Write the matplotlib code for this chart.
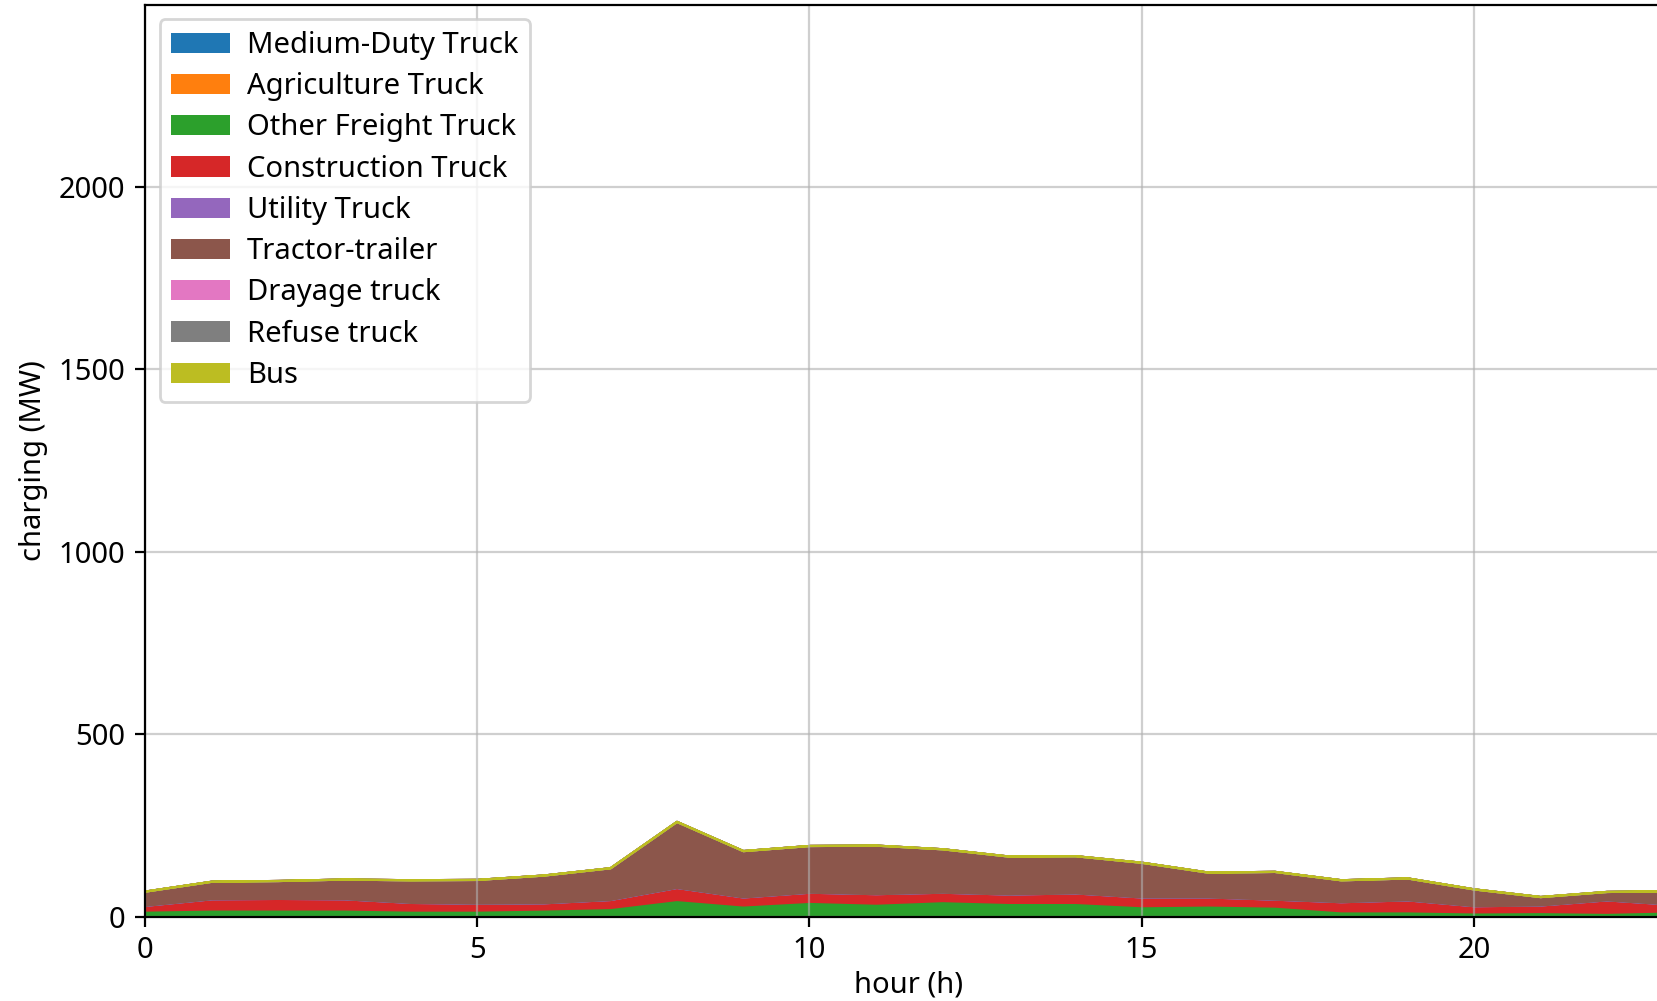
import numpy as np
import matplotlib
matplotlib.use("Agg")
import matplotlib.pyplot as plt

plt.rcParams['font.family'] = ['Noto Sans', 'DejaVu Sans']
plt.rcParams['font.size'] = 10.5

hours = list(range(24))

labels = ["Medium-Duty Truck", "Agriculture Truck", "Other Freight Truck",
          "Construction Truck", "Utility Truck", "Tractor-trailer",
          "Drayage truck", "Refuse truck", "Bus"]

# hourly charging load per vehicle class (MW)
medium_duty = [0] * 24
agriculture = [0] * 24
other_freight = [18, 21, 21, 21, 18, 18, 21, 25, 47, 32, 42, 37,
                 44, 39, 39, 30, 32, 29, 16, 16, 13, 14, 12, 16]
construction = [13, 28, 29, 28, 21, 19, 17, 22, 33, 22, 25, 26,
                23, 23, 26, 24, 22, 19, 25, 30, 17, 18, 34, 18]
utility = [0] * 24
tractor_trailer = [39, 48, 49, 54, 62, 65, 76, 87, 181, 127, 128, 133,
                   119, 104, 102, 95, 68, 76, 60, 60, 46, 23, 23, 37]
drayage = [0] * 24
refuse = [0] * 24
bus = [0] * 24

fig = plt.figure(figsize=(1657 / 200, 1001 / 200), dpi=200)
ax = fig.add_axes([0.0875, 0.0843, 0.9222, 0.911])

polys = ax.stackplot(hours, medium_duty, agriculture, other_freight, construction,
                     utility, tractor_trailer, drayage, refuse, bus, labels=labels)
# outline each band in its own colour so empty layers still show as a thin line
for p in polys:
    p.set_edgecolor(p.get_facecolor())
    p.set_linewidth(0.8)

ax.set_xlim(0, 23)
ax.set_ylim(0, 2500)
ax.set_yticks([0, 500, 1000, 1500, 2000])
ax.grid(True, alpha=0.6)
ax.set_xlabel("hour (h)", labelpad=2)
ax.set_ylabel("charging (MW)")
leg = ax.legend(loc="upper left", labelspacing=0.42, handletextpad=0.6)
for h in leg.legend_handles:
    h.set_linewidth(0)

fig.savefig("out.png", dpi=200)
